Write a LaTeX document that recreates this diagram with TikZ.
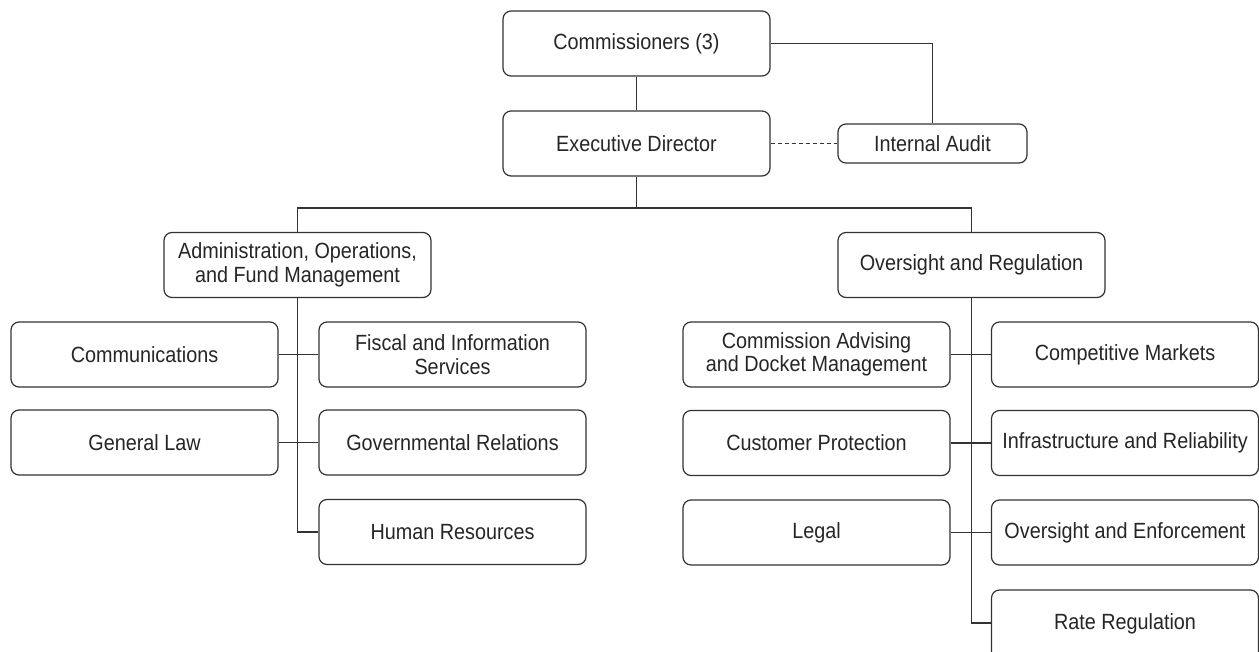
\documentclass[tikz,border=0pt]{standalone}
\usepackage{fontspec}
\setmainfont[FakeStretch=0.9]{Liberation Sans}
\begin{document}
\begin{tikzpicture}[x=1pt,y=-1pt,
  box/.style={draw=black!80, line width=1.2pt, rounded corners=8pt, fill=white,
    minimum width=267pt, minimum height=65pt, inner sep=0pt, align=center,
    text=black!85, font=\fontsize{22}{23.5}\selectfont},
  line/.style={draw=black!80, line width=1.2pt}]
\useasboundingbox (0,0) rectangle (1259,651);
\node[box] (comm) at (636.5,43.5) {Commissioners (3)};
\node[box] (exec) at (636.5,143.5) {Executive Director};
\node[box, minimum width=189pt, minimum height=39pt] (audit) at (932.5,143.5) {Internal Audit};
\node[box] (admin) at (297.5,265) {Administration, Operations,\\and Fund Management};
\node[box] (over) at (971.5,265) {Oversight and Regulation};
\node[box] (commun) at (144.5,354.5) {Communications};
\node[box] (fiscal) at (452.5,354.5) {Fiscal and Information\\Services};
\node[box] (genlaw) at (144.5,442.5) {General Law};
\node[box] (govrel) at (452.5,442.5) {Governmental Relations};
\node[box] (hr) at (452.5,532) {Human Resources};
\node[box] (advis) at (816.5,354.5) {Commission Advising\\and Docket Management};
\node[box] (compet) at (1125,354.5) {Competitive Markets};
\node[box] (cust) at (816.5,443) {Customer Protection};
\node[box] (infra) at (1125,443) {Infrastructure and Reliability};
\node[box] (legal) at (816.5,532.5) {Legal};
\node[box] (enforce) at (1125,532.5) {Oversight and Enforcement};
\node[box, minimum height=80pt, text depth=16pt] (rate) at (1125,630) {Rate Regulation};
\coordinate (bus) at (636.5,208);
\draw[line] (comm.south) -- (exec.north);
\draw[line] (comm.east) -| (audit.north);
\draw[line, dash pattern=on 4pt off 3pt] (exec.east) -- (audit.west);
\draw[line] (exec.south) -- (bus);
\draw[line] (admin.north) |- (bus) -| (over.north);
\draw[line] (admin.south) |- (hr.west);
\draw[line] (commun.east) -- (fiscal.west);
\draw[line] (genlaw.east) -- (govrel.west);
\draw[line] (over.south) |- ([yshift=7pt]rate.west);
\draw[line] (advis.east) -- (compet.west);
\draw[line] (cust.east) -- (infra.west);
\draw[line] (legal.east) -- (enforce.west);
\end{tikzpicture}
\end{document}
